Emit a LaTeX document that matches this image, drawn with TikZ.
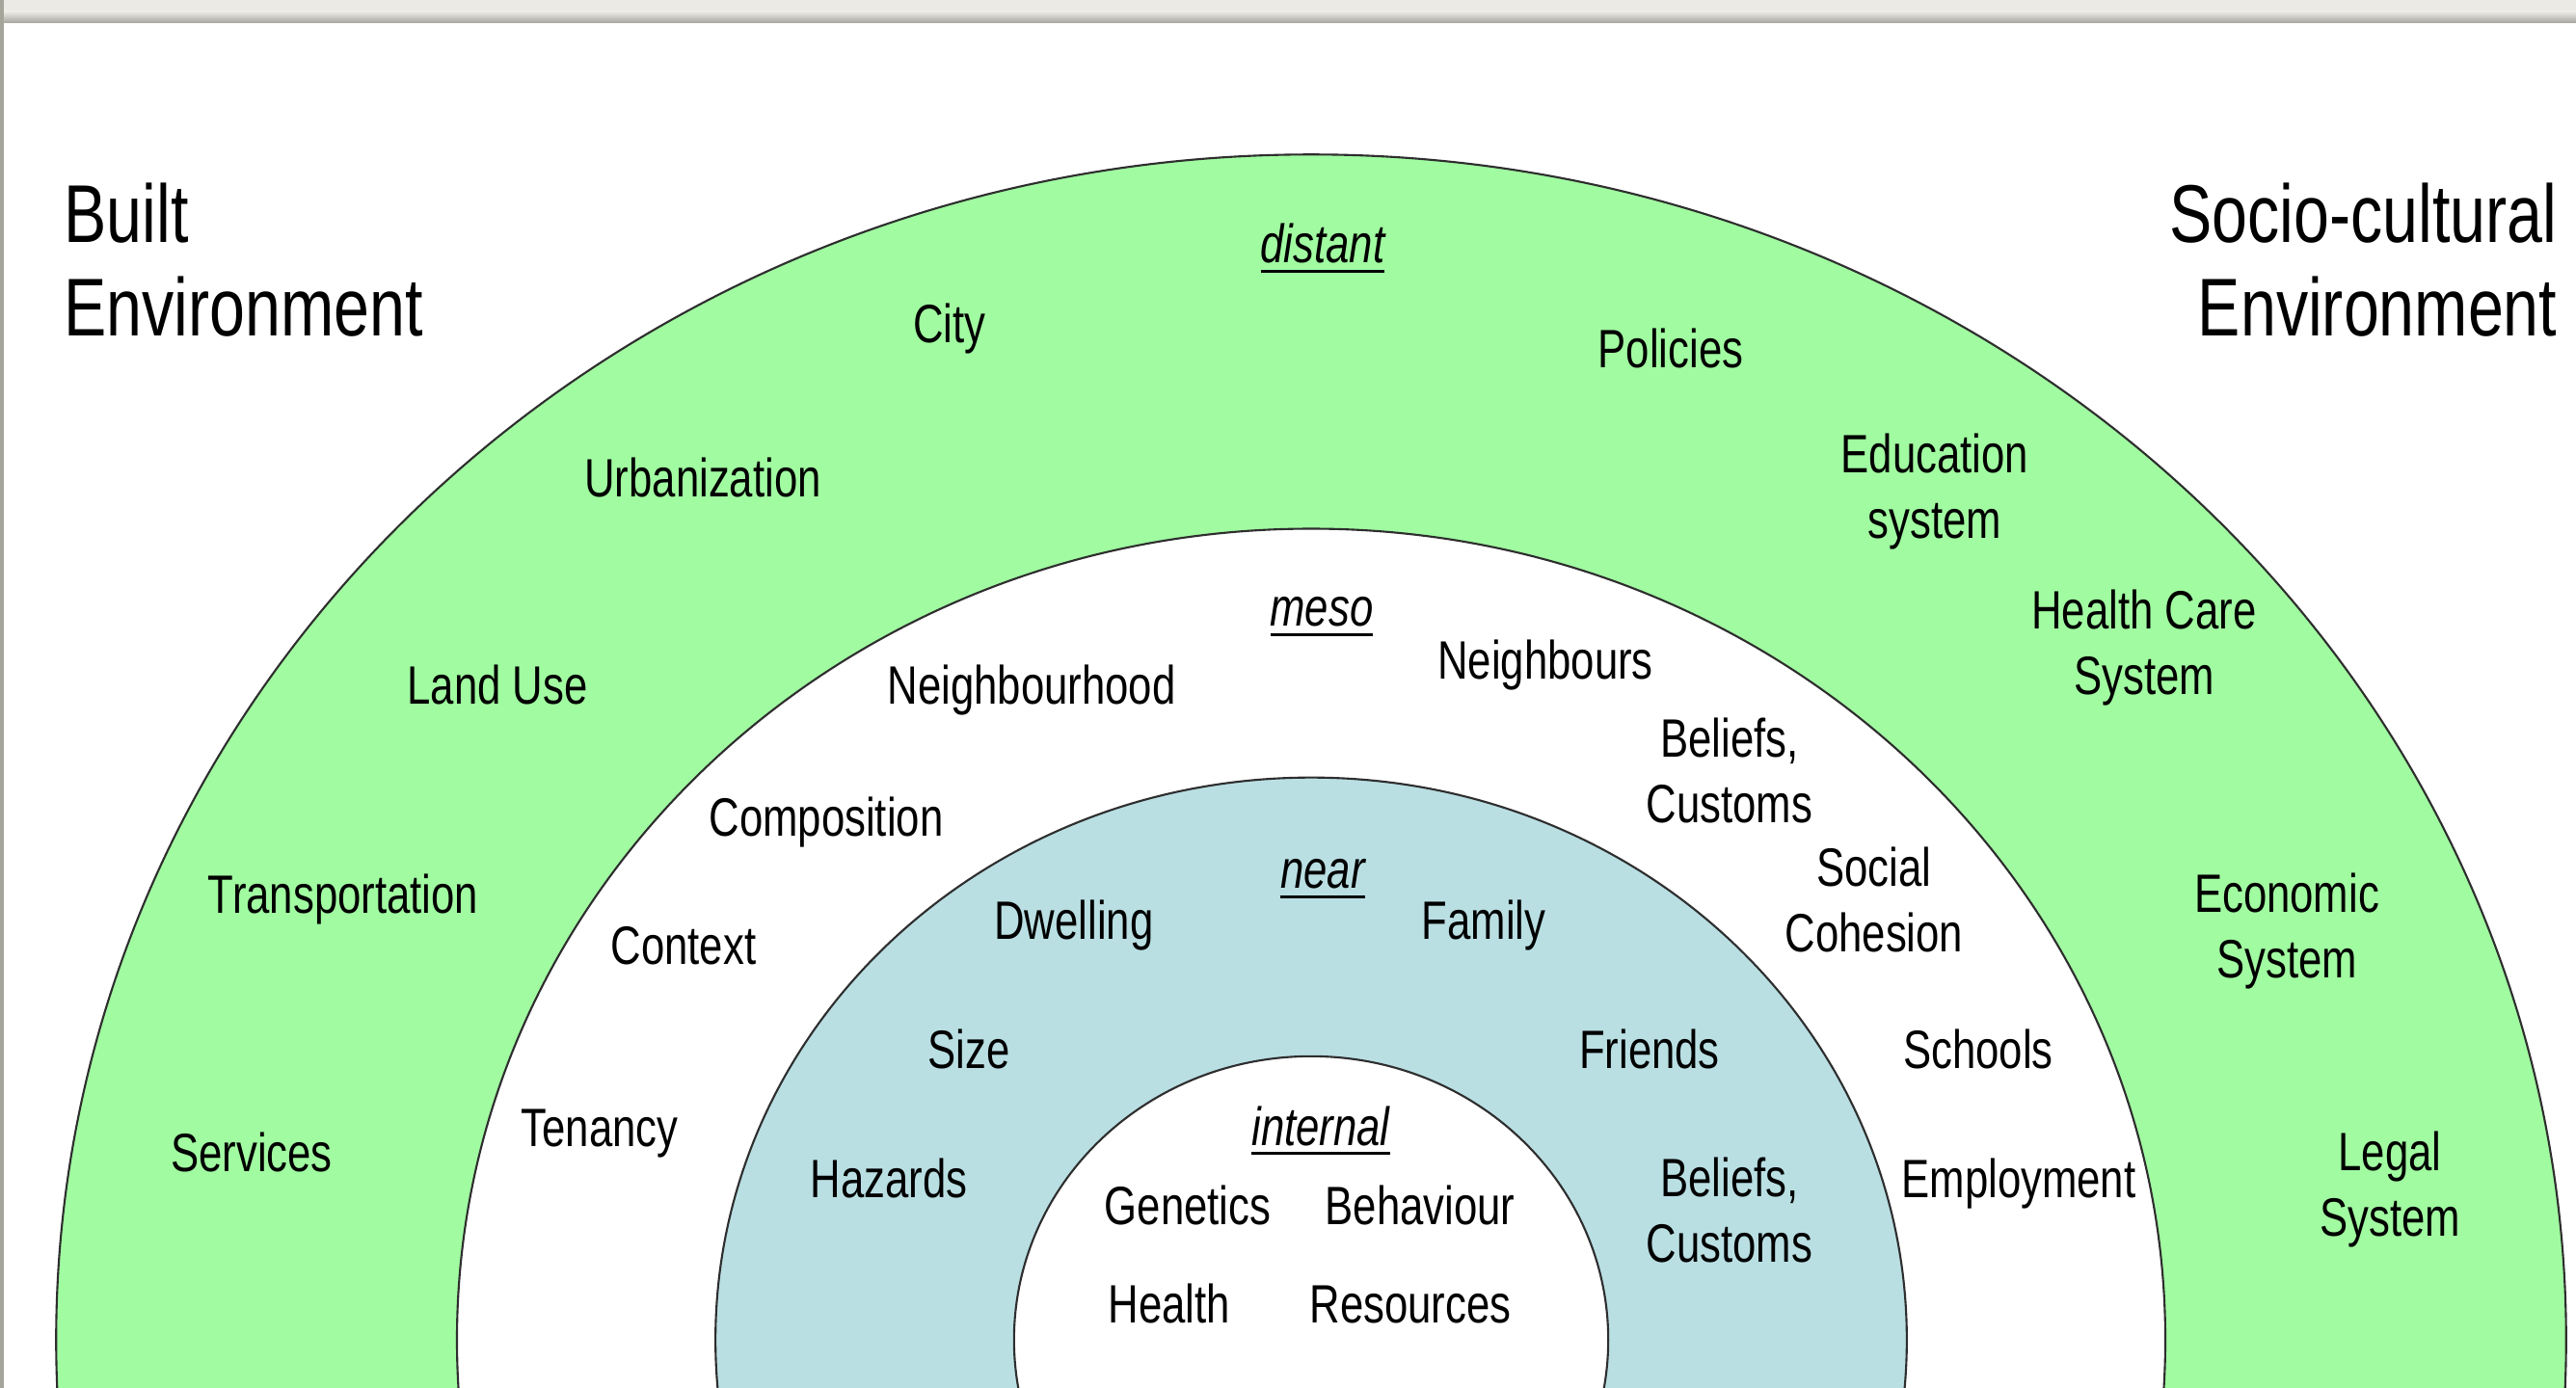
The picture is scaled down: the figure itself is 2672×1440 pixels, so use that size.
\documentclass[tikz,border=0pt]{standalone}
\usepackage{fontspec}
\setmainfont{Liberation Sans}[FakeStretch=0.78]
\definecolor{ringgreen}{HTML}{A1FBA1}
\definecolor{ringblue}{HTML}{B9DFE3}
\definecolor{framegray}{HTML}{ECEAE4}
\definecolor{framedark}{HTML}{A6A59C}
\definecolor{ringline}{HTML}{2E2E2E}
\newcommand{\lblfont}{\fontsize{15.93pt}{19.35pt}\selectfont}
\newcommand{\ttlfont}{\fontsize{24.18pt}{27.6pt}\selectfont}
\newsavebox{\ulbox}
\newcommand{\ulit}[1]{\sbox{\ulbox}{\itshape #1}\rlap{\rule[-0.17em]{\wd\ulbox}{0.05em}}\usebox{\ulbox}}
\begin{document}
\begin{tikzpicture}[x=0.01cm,y=-0.01cm,
  ring/.style={draw=ringline, line width=0.6pt},
  lbl/.style={anchor=base, inner sep=0pt, font=\lblfont},
  lbltwo/.style={anchor=center, inner sep=0pt, align=center, font=\lblfont},
  ttl/.style={inner sep=0pt, font=\ttlfont}]
\useasboundingbox (0,0) rectangle (2672,1440);
\begin{scope}
\clip (0,0) rectangle (2672,1440);
\fill[framegray] (0,0) rectangle (2672,24);
\shade[top color=framegray, bottom color=framedark] (0,12) rectangle (2672,24);
\fill[framedark] (0,0) rectangle (4,1440);
\fill[white] (4,24) rectangle (2672,1440);
\path[ring, fill=ringgreen] (1360,1390) ellipse [x radius=13.01cm, y radius=12.29cm];
\path[ring, fill=white] (1360,1390) ellipse [x radius=8.855cm, y radius=8.41cm];
\path[ring, fill=ringblue] (1360,1390) ellipse [x radius=6.175cm, y radius=5.83cm];
\path[ring, fill=white] (1360,1390) ellipse [x radius=3.08cm, y radius=2.94cm];
\end{scope}

% titles
\node[ttl, anchor=west, align=left] (built) at (66,281) {\strut Built\\\strut Environment};
\node[ttl, anchor=east, align=right] (socio) at (2653,281) {\strut Socio-cultural\\\strut Environment};

% distant ring
\node[lbl] (distant) at (1372,273) {\ulit{distant}};
\node[lbl] (city) at (985,356) {City};
\node[lbl] (policies) at (1733,382) {Policies};
\node[lbl] (urban) at (729,516) {Urbanization};
\node[lbltwo] (edu) at (2007,511) {\strut Education\\\strut system};
\node[lbltwo] (health) at (2224,673) {\strut Health Care\\\strut System};
\node[lbl] (landuse) at (516,731) {Land Use};
\node[lbl] (transport) at (356,947) {Transportation};
\node[lbltwo] (econ) at (2372,967) {\strut Economic\\\strut System};
\node[lbl] (services) at (261,1215) {Services};
\node[lbltwo] (legal) at (2479,1235) {\strut Legal\\\strut System};

% meso ring
\node[lbl] (meso) at (1371,650) {\ulit{meso}};
\node[lbl] (nbhood) at (1070,731) {Neighbourhood};
\node[lbl] (nbours) at (1603,705) {Neighbours};
\node[lbltwo] (beliefsm) at (1794,806) {\strut Beliefs,\\\strut Customs};
\node[lbl] (compo) at (857,867) {Composition};
\node[lbltwo] (social) at (1944,940) {\strut Social\\\strut Cohesion};
\node[lbl] (context) at (709,1000) {Context};
\node[lbl] (schools) at (2052,1108) {Schools};
\node[lbl] (tenancy) at (622,1189) {Tenancy};
\node[lbl] (employ) at (2094,1242) {Employment};

% near ring
\node[lbl] (near) at (1372,922) {\ulit{near}};
\node[lbl] (dwelling) at (1114,975) {Dwelling};
\node[lbl] (family) at (1539,975) {Family};
\node[lbl] (size) at (1005,1108) {Size};
\node[lbl] (friends) at (1711,1108) {Friends};
\node[lbl] (hazards) at (922,1242) {Hazards};
\node[lbltwo] (beliefsn) at (1794,1262) {\strut Beliefs,\\\strut Customs};

% internal
\node[lbl] (internal) at (1370,1188) {\ulit{internal}};
\node[lbl] (genetics) at (1232,1270) {Genetics};
\node[lbl] (behaviour) at (1473,1270) {Behaviour};
\node[lbl] (healthi) at (1213,1372) {Health};
\node[lbl] (resources) at (1463,1372) {Resources};
\end{tikzpicture}
\end{document}
